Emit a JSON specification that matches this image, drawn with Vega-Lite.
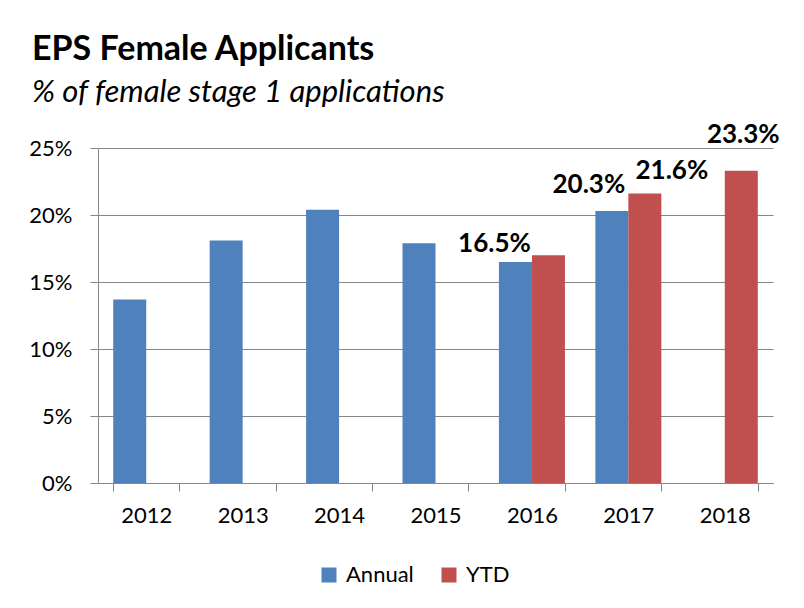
{
  "$schema": "https://vega.github.io/schema/vega-lite/v6.json",
  "autosize": {"type": "none"},
  "width": 675,
  "height": 335,
  "padding": {"left": 98, "top": 148, "right": 31, "bottom": 125},
  "background": "white",
  "config": {
    "font": "Lato",
    "view": {"stroke": null},
    "axis": {"labelFont": "Lato", "labelColor": "#000000"}
  },
  "title": {
    "text": "EPS Female Applicants",
    "subtitle": "% of female stage 1 applications",
    "anchor": "start",
    "frame": "group",
    "dx": -66,
    "offset": 14,
    "font": "Lato",
    "fontSize": 34,
    "fontWeight": "bold",
    "color": "#000000",
    "subtitleFont": "Lato",
    "subtitleFontSize": 31,
    "subtitleFontStyle": "italic",
    "subtitleColor": "#000000",
    "subtitlePadding": 11
  },
  "data": {
    "values": [
      {"year": "2012", "series": "Annual", "value": 0.137},
      {"year": "2013", "series": "Annual", "value": 0.181},
      {"year": "2014", "series": "Annual", "value": 0.204},
      {"year": "2015", "series": "Annual", "value": 0.179},
      {"year": "2016", "series": "Annual", "value": 0.165},
      {"year": "2016", "series": "YTD", "value": 0.170},
      {"year": "2017", "series": "Annual", "value": 0.203},
      {"year": "2017", "series": "YTD", "value": 0.216},
      {"year": "2018", "series": "YTD", "value": 0.233}
    ]
  },
  "encoding": {
    "x": {
      "field": "year",
      "type": "nominal",
      "scale": {"paddingInner": 0.3156, "paddingOuter": 0.1578},
      "axis": {
        "title": null,
        "labelAngle": 0,
        "labelFontSize": 22,
        "labelPadding": 14,
        "tickBand": "extent",
        "tickSize": 8,
        "tickColor": "#868686",
        "domainColor": "#868686",
        "grid": false
      }
    },
    "xOffset": {"field": "series", "type": "nominal", "scale": {"domain": ["Annual", "YTD"], "paddingInner": 0, "paddingOuter": 0}},
    "y": {
      "field": "value",
      "type": "quantitative",
      "scale": {"domain": [0, 0.25], "nice": false},
      "axis": {
        "title": null,
        "values": [0, 0.05, 0.1, 0.15, 0.2, 0.25],
        "format": ".0%",
        "labelFontSize": 22,
        "labelPadding": 18,
        "tickSize": 8,
        "tickColor": "#868686",
        "domainColor": "#868686",
        "gridColor": "#868686",
        "grid": true
      }
    }
  },
  "layer": [
    {
      "mark": {"type": "bar"},
      "encoding": {
        "color": {
          "field": "series",
          "type": "nominal",
          "scale": {"domain": ["Annual", "YTD"], "range": ["#4F81BD", "#C0504D"]},
          "legend": {
            "title": null,
            "orient": "none",
            "direction": "horizontal",
            "legendX": 220,
            "legendY": 416,
            "padding": 0,
            "symbolType": "square",
            "symbolSize": 225,
            "symbolStrokeWidth": 0,
            "symbolOpacity": 1,
            "labelFont": "Lato",
            "labelFontSize": 22,
            "labelColor": "#000000",
            "labelOffset": 6,
            "columnPadding": 24
          }
        }
      }
    },
    {
      "transform": [{"filter": "datum.year == '2016' && datum.series == 'Annual'"}],
      "mark": {"type": "text", "fontWeight": "bold", "fontSize": 26, "baseline": "alphabetic", "dx": -21, "dy": -10, "color": "#000000"},
      "encoding": {"text": {"field": "value", "format": ".1%"}}
    },
    {
      "transform": [{"filter": "datum.year == '2017' && datum.series == 'Annual'"}],
      "mark": {"type": "text", "fontWeight": "bold", "fontSize": 26, "baseline": "alphabetic", "dx": -23, "dy": -18, "color": "#000000"},
      "encoding": {"text": {"field": "value", "format": ".1%"}}
    },
    {
      "transform": [{"filter": "datum.year == '2017' && datum.series == 'YTD'"}],
      "mark": {"type": "text", "fontWeight": "bold", "fontSize": 26, "baseline": "alphabetic", "dx": 27, "dy": -15, "color": "#000000"},
      "encoding": {"text": {"field": "value", "format": ".1%"}}
    },
    {
      "transform": [{"filter": "datum.year == '2018' && datum.series == 'YTD'"}],
      "mark": {"type": "text", "fontWeight": "bold", "fontSize": 26, "baseline": "alphabetic", "dx": 2, "dy": -28, "color": "#000000"},
      "encoding": {"text": {"field": "value", "format": ".1%"}}
    }
  ]
}
